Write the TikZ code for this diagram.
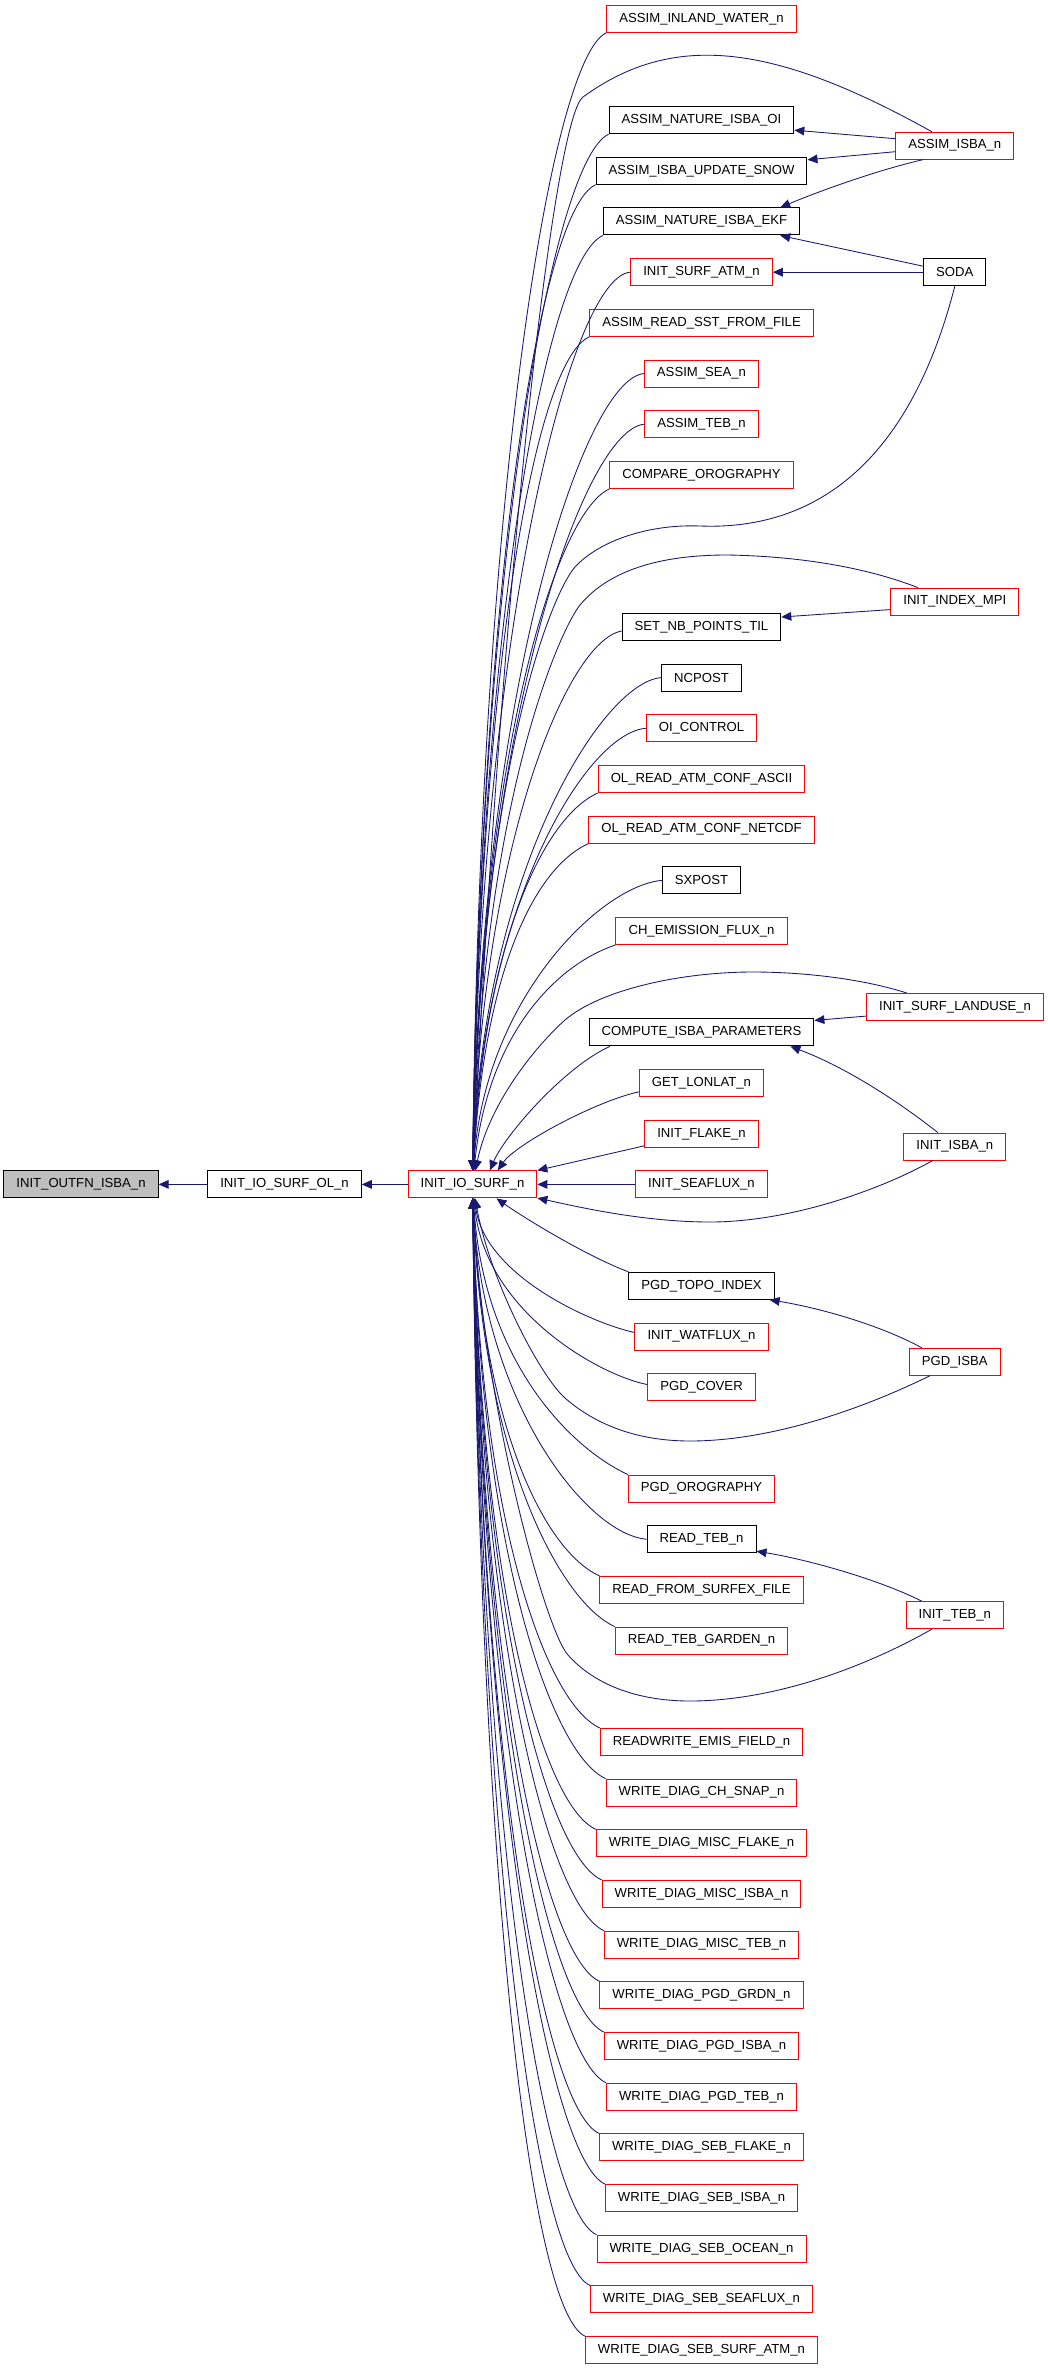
\documentclass[tikz,border=0pt]{standalone}
\usepackage{fontspec}
\setmainfont{Liberation Sans}
\usetikzlibrary{arrows.meta,calc}
\definecolor{edgeblue}{HTML}{191970}
\definecolor{boxred}{HTML}{FF0000}
\definecolor{rootgray}{HTML}{BFBFBF}

\begin{document}
\begin{tikzpicture}[x=0.75pt,y=-0.75pt]
  \tikzset{> = {Triangle[length=7.5pt,width=6.5pt]}}
  \tikzset{fn/.style = {draw=black, line width=0.75pt, inner xsep=9.4pt, inner ysep=0pt,
                        minimum height=20.25pt, font=\fontsize{9.85}{11}\selectfont},
           fnred/.style = {fn, draw=boxred},
           fnroot/.style = {fn, fill=rootgray},
           call/.style = {->, draw=edgeblue, line width=0.65pt}}
  \fill[white] (0,0) rectangle (1048,2368);
  \useasboundingbox (0,0) rectangle (1048,2368);

  % left part of the graph
  \node[fnroot] (outfn) at (81,1184.4) {INIT\_OUTFN\_ISBA\_n};
  \node[fn] (surfol) at (284.5,1184.4) {INIT\_IO\_SURF\_OL\_n};
  \node[fnred] (surf) at (472.5,1184.4) {INIT\_IO\_SURF\_n};

  % callers of INIT_IO_SURF_n
  \node[fnred] (inlandwater) at (701.5,18.8) {ASSIM\_INLAND\_WATER\_n};
  \node[fn] (natureoi) at (701.5,120.2) {ASSIM\_NATURE\_ISBA\_OI};
  \node[fn] (updatesnow) at (701.5,170.8) {ASSIM\_ISBA\_UPDATE\_SNOW};
  \node[fn] (natureekf) at (701.5,221.5) {ASSIM\_NATURE\_ISBA\_EKF};
  \node[fnred] (surfatm) at (701.5,272.2) {INIT\_SURF\_ATM\_n};
  \node[fnred] (readsst) at (701.5,322.9) {ASSIM\_READ\_SST\_FROM\_FILE};
  \node[fnred] (assimsea) at (701.5,373.6) {ASSIM\_SEA\_n};
  \node[fnred] (assimteb) at (701.5,424.2) {ASSIM\_TEB\_n};
  \node[fnred] (compareoro) at (701.5,474.9) {COMPARE\_OROGRAPHY};
  \node[fn] (setnb) at (701.5,627.0) {SET\_NB\_POINTS\_TIL};
  \node[fn] (ncpost) at (701.5,677.6) {NCPOST};
  \node[fnred] (oicontrol) at (701.5,728.3) {OI\_CONTROL};
  \node[fnred] (confascii) at (701.5,779.0) {OL\_READ\_ATM\_CONF\_ASCII};
  \node[fnred] (confnetcdf) at (701.5,829.7) {OL\_READ\_ATM\_CONF\_NETCDF};
  \node[fn] (sxpost) at (701.5,880.4) {SXPOST};
  \node[fnred] (chemis) at (701.5,931.0) {CH\_EMISSION\_FLUX\_n};
  \node[fn] (computeisba) at (701.5,1032.4) {COMPUTE\_ISBA\_PARAMETERS};
  \node[fnred] (getlonlat) at (701.5,1083.1) {GET\_LONLAT\_n};
  \node[fnred] (initflake) at (701.5,1133.8) {INIT\_FLAKE\_n};
  \node[fnred] (initseaflux) at (701.5,1184.4) {INIT\_SEAFLUX\_n};
  \node[fn] (topoindex) at (701.5,1285.8) {PGD\_TOPO\_INDEX};
  \node[fnred] (initwatflux) at (701.5,1336.5) {INIT\_WATFLUX\_n};
  \node[fnred] (pgdcover) at (701.5,1387.2) {PGD\_COVER};
  \node[fnred] (pgdoro) at (701.5,1488.5) {PGD\_OROGRAPHY};
  \node[fn] (readteb) at (701.5,1539.2) {READ\_TEB\_n};
  \node[fnred] (readsurfex) at (701.5,1589.9) {READ\_FROM\_SURFEX\_FILE};
  \node[fnred] (tebgarden) at (701.5,1640.6) {READ\_TEB\_GARDEN\_n};
  \node[fnred] (emisfield) at (701.5,1741.9) {READWRITE\_EMIS\_FIELD\_n};
  \node[fnred] (wdchsnap) at (701.5,1792.6) {WRITE\_DIAG\_CH\_SNAP\_n};
  \node[fnred] (wdmiscflake) at (701.5,1843.3) {WRITE\_DIAG\_MISC\_FLAKE\_n};
  \node[fnred] (wdmiscisba) at (701.5,1893.9) {WRITE\_DIAG\_MISC\_ISBA\_n};
  \node[fnred] (wdmiscteb) at (701.5,1944.6) {WRITE\_DIAG\_MISC\_TEB\_n};
  \node[fnred] (wdpgdgrdn) at (701.5,1995.3) {WRITE\_DIAG\_PGD\_GRDN\_n};
  \node[fnred] (wdpgdisba) at (701.5,2046.0) {WRITE\_DIAG\_PGD\_ISBA\_n};
  \node[fnred] (wdpgdteb) at (701.5,2096.7) {WRITE\_DIAG\_PGD\_TEB\_n};
  \node[fnred] (wdsebflake) at (701.5,2147.4) {WRITE\_DIAG\_SEB\_FLAKE\_n};
  \node[fnred] (wdsebisba) at (701.5,2198.0) {WRITE\_DIAG\_SEB\_ISBA\_n};
  \node[fnred] (wdsebocean) at (701.5,2248.7) {WRITE\_DIAG\_SEB\_OCEAN\_n};
  \node[fnred] (wdsebseaflux) at (701.5,2299.4) {WRITE\_DIAG\_SEB\_SEAFLUX\_n};
  \node[fnred] (wdsebsurfatm) at (701.5,2350.1) {WRITE\_DIAG\_SEB\_SURF\_ATM\_n};

  % right column
  \node[fnred] (assimisba) at (954.8,145.7) {ASSIM\_ISBA\_n};
  \node[fn] (soda) at (954.8,272.2) {SODA};
  \node[fnred] (indexmpi) at (954.8,601.6) {INIT\_INDEX\_MPI};
  \node[fnred] (surflanduse) at (955,1007.1) {INIT\_SURF\_LANDUSE\_n};
  \node[fnred] (initisba) at (954.8,1146.5) {INIT\_ISBA\_n};
  \node[fnred] (pgdisba) at (954.8,1361.8) {PGD\_ISBA};
  \node[fnred] (initteb) at (954.8,1615.2) {INIT\_TEB\_n};

  \draw[call] (surf) -- (surfol);
  \draw[call] (surfol) -- (outfn);

  % edges from above
  \draw[call] (inlandwater.south west) .. controls +(-55,25) and (480,488) .. (surf);
  \draw[call] (natureoi.south west) .. controls +(-55,25) and (480,549) .. (surf);
  \draw[call] (updatesnow.south west) .. controls +(-55,25) and (480,579) .. (surf);
  \draw[call] (natureekf.south west) .. controls +(-55,25) and (480,609) .. (surf);
  \draw[call] (surfatm.west) .. controls +(-60,5) and (480,632) .. (surf);
  \draw[call] (readsst.south west) .. controls +(-55,25) and (480,670) .. (surf);
  \draw[call] (assimsea.west) .. controls +(-60,5) and (480,693) .. (surf);
  \draw[call] (assimteb.west) .. controls +(-60,5) and (480,723) .. (surf);
  \draw[call] (compareoro.south west) .. controls +(-55,25) and (480,761) .. (surf);
  \draw[call] ([yshift=-3pt]setnb.west) .. controls +(-55,10) and (482,847) .. (surf);
  \draw[call] (ncpost.west) .. controls +(-60,5) and (482,875) .. (surf);
  \draw[call] (oicontrol.west) .. controls +(-60,5) and (482,905) .. (surf);
  \draw[call] (confascii.south west) .. controls +(-55,25) and (484,944) .. (surf);
  \draw[call] (confnetcdf.south west) .. controls +(-55,25) and (484,974) .. (surf);
  \draw[call] (sxpost.west) .. controls +(-60,5) and (485,997) .. (surf);
  \draw[call] (chemis.south west) .. controls +(-60,20) and (488,1035) .. (surf);
  \draw[call] ([xshift=16pt]computeisba.south west) .. controls +(-45,20) and (505,1135) .. ([xshift=13pt]surf.north);
  \draw[call] ([yshift=-6.5pt]getlonlat.west) .. controls +(-45,10) and (515,1145) .. ([xshift=19pt]surf.north);
  \draw[call] ([yshift=-9pt]initflake.west) -- (surf.north east);
  \draw[call] (initseaflux) -- (surf);

  % edges from below
  \draw[call] (topoindex.north west) .. controls +(-45,-17) and (520,1215) .. ([xshift=18pt]surf.south);
  \draw[call] ([yshift=3pt]initwatflux.west) .. controls +(-45,-10) and (485,1275) .. (surf);
  \draw[call] ([yshift=2pt]pgdcover.west) .. controls +(-50,-10) and (485,1310) .. (surf);
  \draw[call] (pgdoro.north west) .. controls +(-55,-25) and (484,1364) .. (surf);
  \draw[call] (readteb.west) .. controls +(-60,-5) and (482,1402) .. (surf);
  \draw[call] (readsurfex.north west) .. controls +(-55,-25) and (482,1425) .. (surf);
  \draw[call] (tebgarden.north west) .. controls +(-55,-25) and (482,1456) .. (surf);
  \draw[call] (emisfield.north west) .. controls +(-55,-25) and (480,1516) .. (surf);
  \draw[call] (wdchsnap.north west) .. controls +(-55,-25) and (480,1547) .. (surf);
  \draw[call] (wdmiscflake.north west) .. controls +(-55,-25) and (480,1577) .. (surf);
  \draw[call] (wdmiscisba.north west) .. controls +(-55,-25) and (480,1607) .. (surf);
  \draw[call] (wdmiscteb.north west) .. controls +(-55,-25) and (480,1638) .. (surf);
  \draw[call] (wdpgdgrdn.north west) .. controls +(-55,-25) and (480,1668) .. (surf);
  \draw[call] (wdpgdisba.north west) .. controls +(-55,-25) and (480,1699) .. (surf);
  \draw[call] (wdpgdteb.north west) .. controls +(-55,-25) and (480,1729) .. (surf);
  \draw[call] (wdsebflake.north west) .. controls +(-55,-25) and (480,1759) .. (surf);
  \draw[call] (wdsebisba.north west) .. controls +(-55,-25) and (480,1790) .. (surf);
  \draw[call] (wdsebocean.north west) .. controls +(-55,-25) and (480,1820) .. (surf);
  \draw[call] (wdsebseaflux.north west) .. controls +(-55,-25) and (480,1851) .. (surf);
  \draw[call] (wdsebsurfatm.north west) .. controls +(-55,-25) and (480,1881) .. (surf);

  % edges from the right column
  \draw[call] ($(assimisba.west)+(0,-7)$) -- ($(natureoi.east)+(0,10)$);
  \draw[call] ($(assimisba.west)+(0,6)$) -- ($(updatesnow.east)+(0,-11)$);
  \draw[call] ($(assimisba.south)+(-32,0)$) .. controls (870,172) and (810,195) .. ($(natureekf.north east)+(-20,0)$);
  \draw[call] ($(assimisba.north)+(-23,0)$) .. controls (776,45) and (675,30) .. (583,97)
              .. controls (553,119) and (500,600) .. (surf);
  \draw[call] ($(soda.west)+(0,-6)$) -- ($(natureekf.south east)+(-20,0)$);
  \draw[call] (soda) -- (surfatm);
  \draw[call] (soda.south) .. controls (905,480) and (800,530) .. (700,526)
              .. controls (650,524) and (600,540) .. (575,567)
              .. controls (555,589) and (482,750) .. (surf);
  \draw[call] ($(indexmpi.west)+(0,8)$) -- ($(setnb.north east)+(0,4)$);
  \draw[call] ($(indexmpi.north)+(-37,0)$) .. controls (860,565) and (790,556) .. (727,555)
              .. controls (650,555) and (605,575) .. (580,605)
              .. controls (560,630) and (482,800) .. (surf);
  \draw[call] ($(surflanduse.west)+(0,9)$) -- ($(computeisba.north east)+(0,2)$);
  \draw[call] ($(surflanduse.north)+(-48,0)$) .. controls (860,978) and (800,972) .. (753,972)
              .. controls (680,972) and (600,990) .. (565,1020)
              .. controls (540,1042) and (490,1100) .. (surf);
  \draw[call] ($(initisba.north)+(-17,0)$) .. controls (890,1095) and (840,1065) .. ($(computeisba.south east)+(-24,0)$);
  \draw[call] ($(initisba.south)+(-22,0)$) .. controls (880,1190) and (790,1222) .. (710,1222)
              .. controls (640,1222) and (570,1205) .. (surf);
  \draw[call] ($(pgdisba.north)+(-33,0)$) .. controls (880,1325) and (820,1308) .. ($(topoindex.south east)+(-5,0)$);
  \draw[call] ($(pgdisba.south)+(-25,0)$) .. controls (860,1410) and (770,1441) .. (690,1441)
              .. controls (630,1441) and (590,1420) .. (565,1398)
              .. controls (540,1376) and (490,1280) .. (surf);
  \draw[call] ($(initteb.north)+(-33,0)$) .. controls (880,1580) and (810,1560) .. ($(readteb.south east)+(0,-2)$);
  \draw[call] ($(initteb.south)+(-23,0)$) .. controls (860,1670) and (770,1701) .. (690,1701)
              .. controls (630,1701) and (590,1680) .. (568,1655)
              .. controls (545,1630) and (482,1400) .. (surf);
\end{tikzpicture}
\end{document}
